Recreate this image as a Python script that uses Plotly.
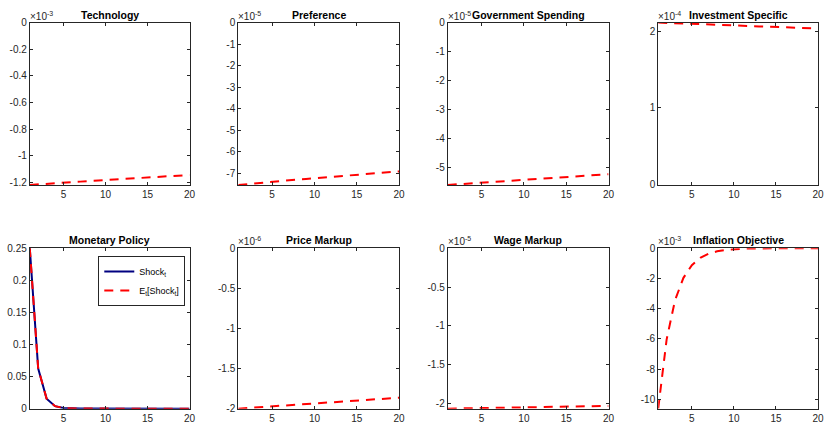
import plotly.graph_objects as go

W, H = 829, 437

periods = list(range(1, 21))

titles = ["Technology", "Preference", "Government Spending", "Investment Specific",
          "Monetary Policy", "Price Markup", "Wage Markup", "Inflation Objective"]
exponents = [-3, -5, -5, -4, None, -6, -5, -3]

# Expected shock E_t[Shock_t] (in units of 10^exponent)
technology = [-1.220, -1.215, -1.211, -1.207, -1.203, -1.199, -1.195, -1.191, -1.187, -1.183,
              -1.179, -1.175, -1.171, -1.167, -1.163, -1.160, -1.156, -1.152, -1.149, -1.145]
preference = [-7.55, -7.51, -7.48, -7.44, -7.41, -7.37, -7.34, -7.30, -7.27, -7.24,
              -7.20, -7.17, -7.14, -7.11, -7.08, -7.05, -7.01, -6.98, -6.95, -6.92]
government = [-5.60, -5.58, -5.56, -5.54, -5.52, -5.50, -5.48, -5.46, -5.44, -5.42,
              -5.40, -5.38, -5.36, -5.34, -5.32, -5.30, -5.28, -5.27, -5.25, -5.23]
investment = [2.110, 2.105, 2.101, 2.097, 2.093, 2.088, 2.084, 2.080, 2.076, 2.072,
              2.068, 2.064, 2.060, 2.056, 2.052, 2.048, 2.044, 2.040, 2.036, 2.032]
monetary = [0.25, 0.0625, 0.0156, 0.0039, 0.001, 0.00024, 0.00006, 0.000015, 0.000004, 0.000001,
            0.0, 0.0, 0.0, 0.0, 0.0, 0.0, 0.0, 0.0, 0.0, 0.0]
price_markup = [-2.000, -1.993, -1.985, -1.978, -1.970, -1.963, -1.956, -1.948, -1.941, -1.934,
                -1.927, -1.920, -1.913, -1.906, -1.899, -1.892, -1.885, -1.878, -1.871, -1.864]
wage_markup = [-2.065, -2.063, -2.061, -2.059, -2.057, -2.055, -2.053, -2.051, -2.049, -2.048,
               -2.046, -2.044, -2.042, -2.040, -2.039, -2.037, -2.035, -2.033, -2.032, -2.030]
inflation_obj = [-10.6, -6.04, -3.44, -1.96, -1.12, -0.64, -0.36, -0.21, -0.12, -0.07,
                 -0.04, -0.02, -0.01, -0.007, -0.004, -0.002, -0.001, -0.0007, -0.0004, -0.0002]

# Actual shock Shock_t
shock_zero = [0.0] * 20
shock_monetary = [0.25, 0.0625, 0.0156, 0.0039, 0.001, 0.00024, 0.00006, 0.000015, 0.000004, 0.000001,
                  0.0, 0.0, 0.0, 0.0, 0.0, 0.0, 0.0, 0.0, 0.0, 0.0]

expected = [technology, preference, government, investment, monetary, price_markup, wage_markup, inflation_obj]
actual = [shock_zero, shock_zero, shock_zero, shock_zero, shock_monetary, shock_zero, shock_zero, shock_zero]

y_ticks = [
    [-1.2, -1.0, -0.8, -0.6, -0.4, -0.2, 0],
    [-7, -6, -5, -4, -3, -2, -1, 0],
    [-5, -4, -3, -2, -1, 0],
    [0, 1, 2],
    [0, 0.05, 0.1, 0.15, 0.2, 0.25],
    [-2, -1.5, -1, -0.5, 0],
    [-2, -1.5, -1, -0.5, 0],
    [-10, -8, -6, -4, -2, 0],
]
x_ticks = [5, 10, 15, 20]

# pixel boxes of axes (left, right, top, bottom)
cols = [(30, 191), (240, 402), (451, 613), (663, 824)]
rows = [(17, 184), (249, 414)]

AX = "#262626"
FONT = "Liberation Sans, Arial, sans-serif"

fig = go.Figure()
annotations = []

for i in range(8):
    r, c = divmod(i, 4)
    l, rr = cols[c]
    t, b = rows[r]
    ax_id = "" if i == 0 else str(i + 1)
    xa, ya = "x" + ax_id, "y" + ax_id
    first = (i == 4)
    # a shock path that stays at zero lies on the axes box and is hidden by it (as in the original)
    on_box = all(v == 0 for v in actual[i])
    fig.add_trace(go.Scatter(x=periods, y=actual[i], mode="lines", xaxis=xa, yaxis=ya,
                             line=dict(color="#000080", width=2),
                             visible=not on_box,
                             name="Shock<sub>t</sub>", showlegend=first, legendrank=1))
    fig.add_trace(go.Scatter(x=periods, y=expected[i], mode="lines", xaxis=xa, yaxis=ya,
                             line=dict(color="#ff0000", width=2, dash="9px,7px"),
                             name="E<sub>t</sub>[Shock<sub>t</sub>]", showlegend=first, legendrank=2))
    ymin = min(min(expected[i]), min(actual[i]))
    ymax = max(max(expected[i]), max(actual[i]))
    ticks = y_ticks[i]
    axis_common = dict(showline=True, linecolor=AX, linewidth=1, mirror="allticks",
                       ticks="inside", ticklen=3, tickcolor=AX, showgrid=False, zeroline=False,
                       tickfont=dict(family=FONT, size=10, color=AX))
    fig.layout["xaxis" + ax_id] = dict(domain=[l / W, rr / W], anchor=ya, range=[1, 20],
                                       tickvals=x_ticks, ticktext=[str(v) for v in x_ticks],
                                       **axis_common)
    fig.layout["yaxis" + ax_id] = dict(domain=[1 - b / H, 1 - t / H], anchor=xa, range=[ymin, ymax],
                                       tickvals=ticks, ticktext=[f"{v:g}" for v in ticks],
                                       **axis_common)
    if exponents[i] is not None:
        annotations.append(dict(text=f"\u00d710<sup>{exponents[i]}</sup>", x=l / W, y=1 - t / H,
                                xref="paper", yref="paper", xanchor="left", yanchor="bottom",
                                showarrow=False, font=dict(family=FONT, size=10, color=AX),
                                xshift=-2, yshift=-1))
    annotations.append(dict(text=f"<b>{titles[i]}</b>", x=(l + rr) / 2 / W, y=1 - t / H,
                            xref="paper", yref="paper", xanchor="center", yanchor="bottom",
                            showarrow=False, font=dict(family=FONT, size=10.5, color="black"),
                            yshift=0))

fig.update_layout(
    width=W, height=H, margin=dict(l=0, r=0, t=0, b=0),
    paper_bgcolor="white", plot_bgcolor="white",
    annotations=annotations,
    showlegend=True,
    legend=dict(x=99 / W, y=1 - 257 / H, xanchor="left", yanchor="top",
                bgcolor="white", bordercolor=AX, borderwidth=1,
                font=dict(family=FONT, size=9, color="black"),
                tracegroupgap=0, itemwidth=30),
)

fig.write_html("out.html")
